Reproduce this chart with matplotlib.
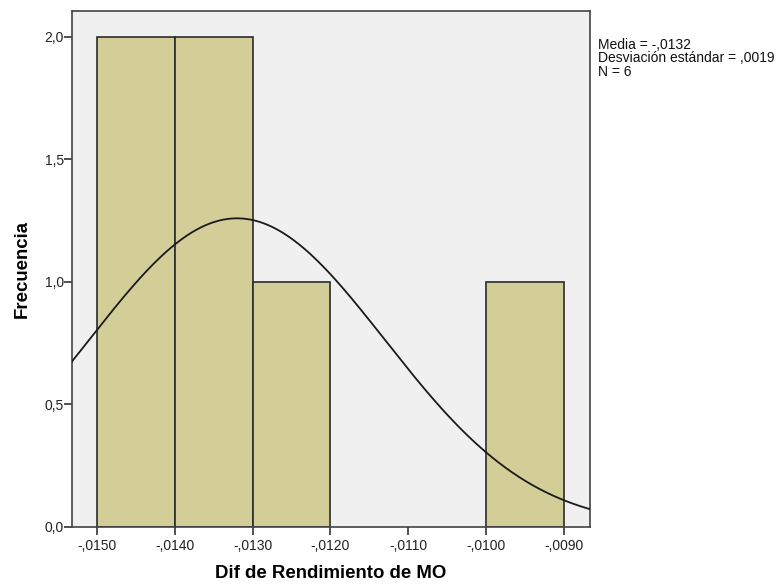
import numpy as np
import matplotlib.pyplot as plt
from matplotlib.ticker import FuncFormatter

plt.rcParams['font.family'] = ['Liberation Sans', 'DejaVu Sans']

# histogram bins and counts
bin_edges = [-0.0150, -0.0140, -0.0130, -0.0120, -0.0110, -0.0100, -0.0090]
counts = [2, 2, 1, 0, 0, 1]

# summary stats
media = -0.0132
desv = 0.0019
n = 6

x_ticks = [-0.0150, -0.0140, -0.0130, -0.0120, -0.0110, -0.0100, -0.0090]
y_ticks = [0.0, 0.5, 1.0, 1.5, 2.0]

fig = plt.figure(figsize=(7.77, 5.88), dpi=100)
ax = fig.add_axes([72 / 777, 61 / 588, 518 / 777, 516 / 588])
ax.set_facecolor('#F0F0F0')

edge = '#2b2b2b'
for left, right, c in zip(bin_edges[:-1], bin_edges[1:], counts):
    if c > 0:
        ax.bar(left, c, width=right - left, align='edge', color='#D3CE97',
               edgecolor=edge, linewidth=1.2, zorder=2)

# normal curve scaled to counts
bw = bin_edges[1] - bin_edges[0]
xs = np.linspace(-0.0154, -0.0086, 400)
ys = n * bw / (desv * np.sqrt(2 * np.pi)) * np.exp(-0.5 * ((xs - media) / desv) ** 2)
ax.plot(xs, ys, color='#1a1a1a', linewidth=1.3, zorder=3)

ax.set_xlim(-0.015321, -0.008663)
ax.set_ylim(0, 2.106)
ax.set_xticks(x_ticks)
ax.set_yticks(y_ticks)
ax.xaxis.set_major_formatter(FuncFormatter(lambda v, p: ('-' if v < 0 else '') + (',%04d' % round(abs(v) * 10000))))
ax.yaxis.set_major_formatter(FuncFormatter(lambda v, p: ('%.1f' % v).replace('.', ',')))
ax.tick_params(direction='out', length=5.5, width=1.2, colors='#333333',
               labelsize=10, labelcolor='#222222')
ax.tick_params(axis='y', pad=0.5)
ax.tick_params(axis='x', pad=3)
for s in ax.spines.values():
    s.set_color('#444444')
    s.set_linewidth(1.2)

ax.set_xlabel('Dif de Rendimiento de MO', fontsize=13.4, fontweight='bold')
ax.set_ylabel('Frecuencia', fontsize=13.4, fontweight='bold')
ax.xaxis.set_label_coords(0.5, -(565 - 527) / 516)
ax.yaxis.set_label_coords((31 - 72) / 518, 0.5)

fig.text(598 / 777, 1 - 38 / 588,
         'Media = -,0132\nDesviación estándar = ,0019\nN = 6',
         fontsize=10, va='top', ha='left', color='#111111', linespacing=0.95)

fig.savefig('out.png', dpi=100, facecolor='white')
